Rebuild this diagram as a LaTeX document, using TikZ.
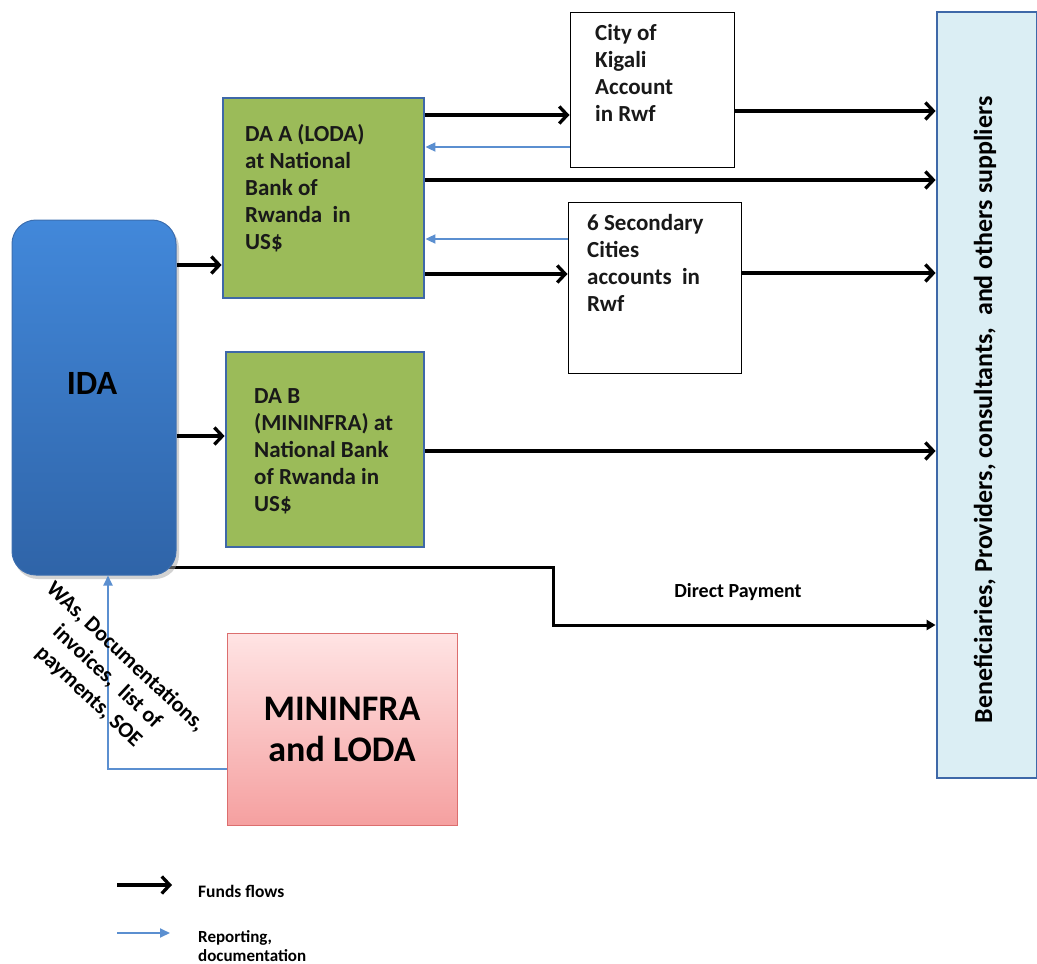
\documentclass[tikz,border=0pt]{standalone}
\usepackage{fontspec}
\setmainfont{Carlito}
\usetikzlibrary{arrows.meta,calc}
\definecolor{boxblue}{RGB}{62,104,168}
\definecolor{dagreen}{RGB}{155,187,89}
\definecolor{benfill}{RGB}{219,238,244}
\definecolor{idatop}{RGB}{66,136,218}
\definecolor{idabot}{RGB}{47,100,168}
\definecolor{idaborder}{RGB}{60,110,175}
\definecolor{pinktop}{RGB}{255,228,228}
\definecolor{pinkbot}{RGB}{245,160,160}
\definecolor{pinkborder}{RGB}{220,110,110}
\definecolor{repblue}{RGB}{91,143,208}
\begin{document}
\begin{tikzpicture}[x=1pt,y=-1pt,
  dabox/.style={draw=boxblue, line width=2.8pt, fill=dagreen, inner sep=0pt},
  acctbox/.style={draw=black, line width=1pt, fill=white, inner sep=0pt},
  txt/.style={font=\bfseries\fontsize{23}{27}\selectfont, align=left, inner sep=0pt, anchor=north west, text=black!90},
  flow/.style={draw=black, line width=3.3pt, -{Straight Barb[length=8pt,width=17pt]}},
  dflow/.style={draw=black, line width=3pt, -{Triangle[length=9pt,width=10pt]}},
  rep/.style={draw=repblue, line width=1.8pt, -{Triangle[length=10pt,width=9pt]}}
]
\useasboundingbox (0,0) rectangle (1037,964);

% Beneficiaries
\node[draw=boxblue, line width=2.8pt, fill=benfill, minimum width=100pt, minimum height=766pt, inner sep=0pt] (ben) at (987,395) {};
\node[rotate=90, font=\bfseries\fontsize{26}{30}\selectfont, inner sep=0pt] (bentxt) at (985,410) {Beneficiaries, Providers, consultants,\ \ and others suppliers};

% account boxes
\node[acctbox, minimum width=164pt, minimum height=155pt] (city) at (652,89.5) {};
\node[txt] (citytxt) at (595,24) {City of\\Kigali\\Account\\in Rwf};
\node[acctbox, minimum width=173pt, minimum height=171pt] (sec) at (654.5,287.5) {};
\node[txt] (sectxt) at (587,214) {6 Secondary\\Cities\\accounts\ \ in\\Rwf};

% DA boxes
\node[dabox, minimum width=201pt, minimum height=200pt] (daa) at (323.5,198) {};
\node[txt] (daatxt) at (245,124) {DA A (LODA)\\at National\\Bank of\\Rwanda\ \ in\\US\$};
\node[dabox, minimum width=198pt, minimum height=195pt] (dab) at (325,449.5) {};
\node[txt] (dabtxt) at (254,388) {DA B\\(MININFRA) at\\National Bank\\of Rwanda in\\US\$};

% flows
\draw[flow] (daa.east |- 0,115) -- (city.west |- 0,115);
\draw[rep] (city.west |- 0,147) -- (daa.east |- 0,147);
\draw[flow] (daa.east |- 0,180) -- (ben.west |- 0,180);
\draw[rep] (sec.west |- 0,239) -- (daa.east |- 0,239);
\draw[flow] (daa.east |- 0,274) -- (sec.west |- 0,274);
\draw[flow] (city.east |- 0,111) -- (ben.west |- 0,111);
\draw[flow] (sec.east |- 0,273) -- (ben.west |- 0,273);
\draw[flow] (dab.east |- 0,451) -- (ben.west |- 0,451);

% Direct payment
\draw[dflow] (150,567) -- (553,567) -- (553,625) -- (ben.west |- 0,625);
\node[font=\bfseries\fontsize{20}{24}\selectfont, inner sep=0pt] (dp) at (738,592) {Direct Payment};

% IDA
\fill[black!35, opacity=0.5, rounded corners=24pt] (14,224) rectangle (179,579);
\node[draw=idaborder, line width=1pt, top color=idatop, bottom color=idabot, rounded corners=24pt, minimum width=164pt, minimum height=355pt, inner sep=0pt] (ida) at (94,397.5) {};
\node[font=\bfseries\fontsize{34}{38}\selectfont, inner sep=0pt] (idatxt) at (92,383) {IDA};
\draw[flow] (ida.east |- 0,265) -- (daa.west |- 0,265);
\draw[flow] (ida.east |- 0,436) -- (dab.west |- 0,436);

% MININFRA and LODA
\node[draw=pinkborder, line width=1pt, top color=pinktop, bottom color=pinkbot, minimum width=230pt, minimum height=192pt, inner sep=0pt] (mini) at (342,729) {};
\node[font=\bfseries\fontsize{36}{41}\selectfont, align=center, inner sep=0pt] (minitxt) at (342,729) {MININFRA\\and LODA};
\draw[rep] (mini.west |- 0,769) -| (ida.south -| 108,0);

% rotated reporting label
\node[rotate=-43, font=\bfseries\fontsize{22}{27}\selectfont, align=center, inner sep=0pt] (replbl) at (107,677) {WAs, Documentations,\\invoices,\ \ list of\\payments, SOE};

% legend
\coordinate (l1a) at (117,885);
\coordinate (l1b) at (172,885);
\draw[flow] (l1a) -- (l1b);
\node[font=\bfseries\fontsize{17.5}{20}\selectfont, anchor=west, inner sep=0pt] (l1t) at (198,891) {Funds flows};
\coordinate (l2a) at (117,933);
\coordinate (l2b) at (170,933);
\draw[rep] (l2a) -- (l2b);
\node[font=\bfseries\fontsize{17}{19}\selectfont, anchor=north west, align=left, inner sep=0pt] (l2t) at (198,930) {Reporting,\\documentation};
\end{tikzpicture}
\end{document}
